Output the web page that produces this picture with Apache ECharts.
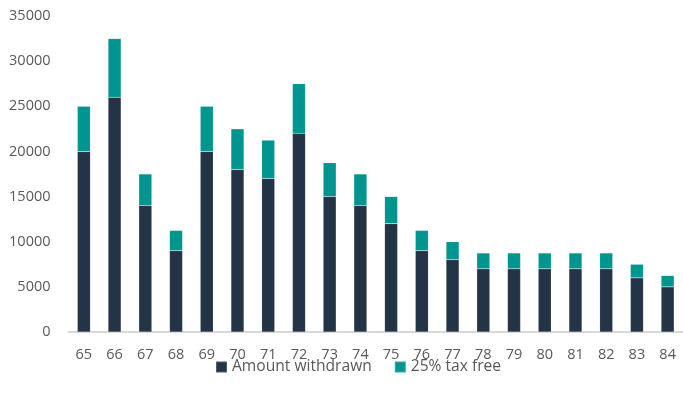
<!DOCTYPE html>
<html>
<head>
<meta charset="utf-8">
<script src="https://cdn.jsdelivr.net/npm/echarts@6/dist/echarts.min.js"></script>
<style>
  html, body { margin: 0; padding: 0; background: #fff; }
  #chart { width: 683px; height: 403px; }
</style>
</head>
<body>
<div id="chart"></div>
<script>
// 年龄
var ages = ['65','66','67','68','69','70','71','72','73','74','75','76','77','78','79','80','81','82','83','84'];
// 提取金额
var withdrawn = [20000,26000,14000,9000,20000,18000,17000,22000,15000,14000,12000,9000,8000,7000,7000,7000,7000,7000,6000,5000];
// 25% 免税部分
var taxFree = [5000,6500,3500,2250,5000,4500,4250,5500,3750,3500,3000,2250,2000,1750,1750,1750,1750,1750,1500,1250];
var yTicks = [0,5000,10000,15000,20000,25000,30000,35000];

var chart = echarts.init(document.getElementById('chart'));
var font = 'Open Sans, Liberation Sans, sans-serif';
var option = {
    animation: false,
    grid: { left: 68.5, right: -5.5, top: 16, bottom: 71 },
    legend: {
        bottom: 23,
        left: 210,
        itemWidth: 11,
        itemHeight: 11,
        itemGap: 22,
        icon: 'rect',
        textStyle: { color: '#595959', fontSize: 15.6, fontFamily: font },
        data: ['Amount withdrawn', '25% tax free']
    },
    xAxis: {
        type: 'category',
        data: ages,
        axisLine: { lineStyle: { color: '#d9d9d9', width: 2 } },
        axisTick: { show: false },
        axisLabel: { color: '#595959', fontSize: 14.5, fontFamily: font, margin: 15 }
    },
    yAxis: {
        type: 'value',
        min: yTicks[0],
        max: yTicks[yTicks.length - 1],
        interval: 5000,
        splitLine: { show: false },
        axisLine: { show: false },
        axisTick: { show: false },
        axisLabel: {
            color: '#595959', fontSize: 14.5, fontFamily: font, margin: 18,
            formatter: function (v) { return String(v); }
        }
    },
    series: [
        {
            name: 'Amount withdrawn',
            type: 'bar',
            stack: 'total',
            data: withdrawn,
            barWidth: 13,
            itemStyle: { color: '#243447', borderColor: 'rgba(255,255,255,0.2)', borderWidth: 0.5 }
        },
        {
            name: '25% tax free',
            type: 'bar',
            stack: 'total',
            data: taxFree,
            barWidth: 13,
            itemStyle: { color: '#00968f', borderColor: 'rgba(255,255,255,0.2)', borderWidth: 0.5 }
        }
    ]
};
chart.setOption(option);
</script>
</body>
</html>
